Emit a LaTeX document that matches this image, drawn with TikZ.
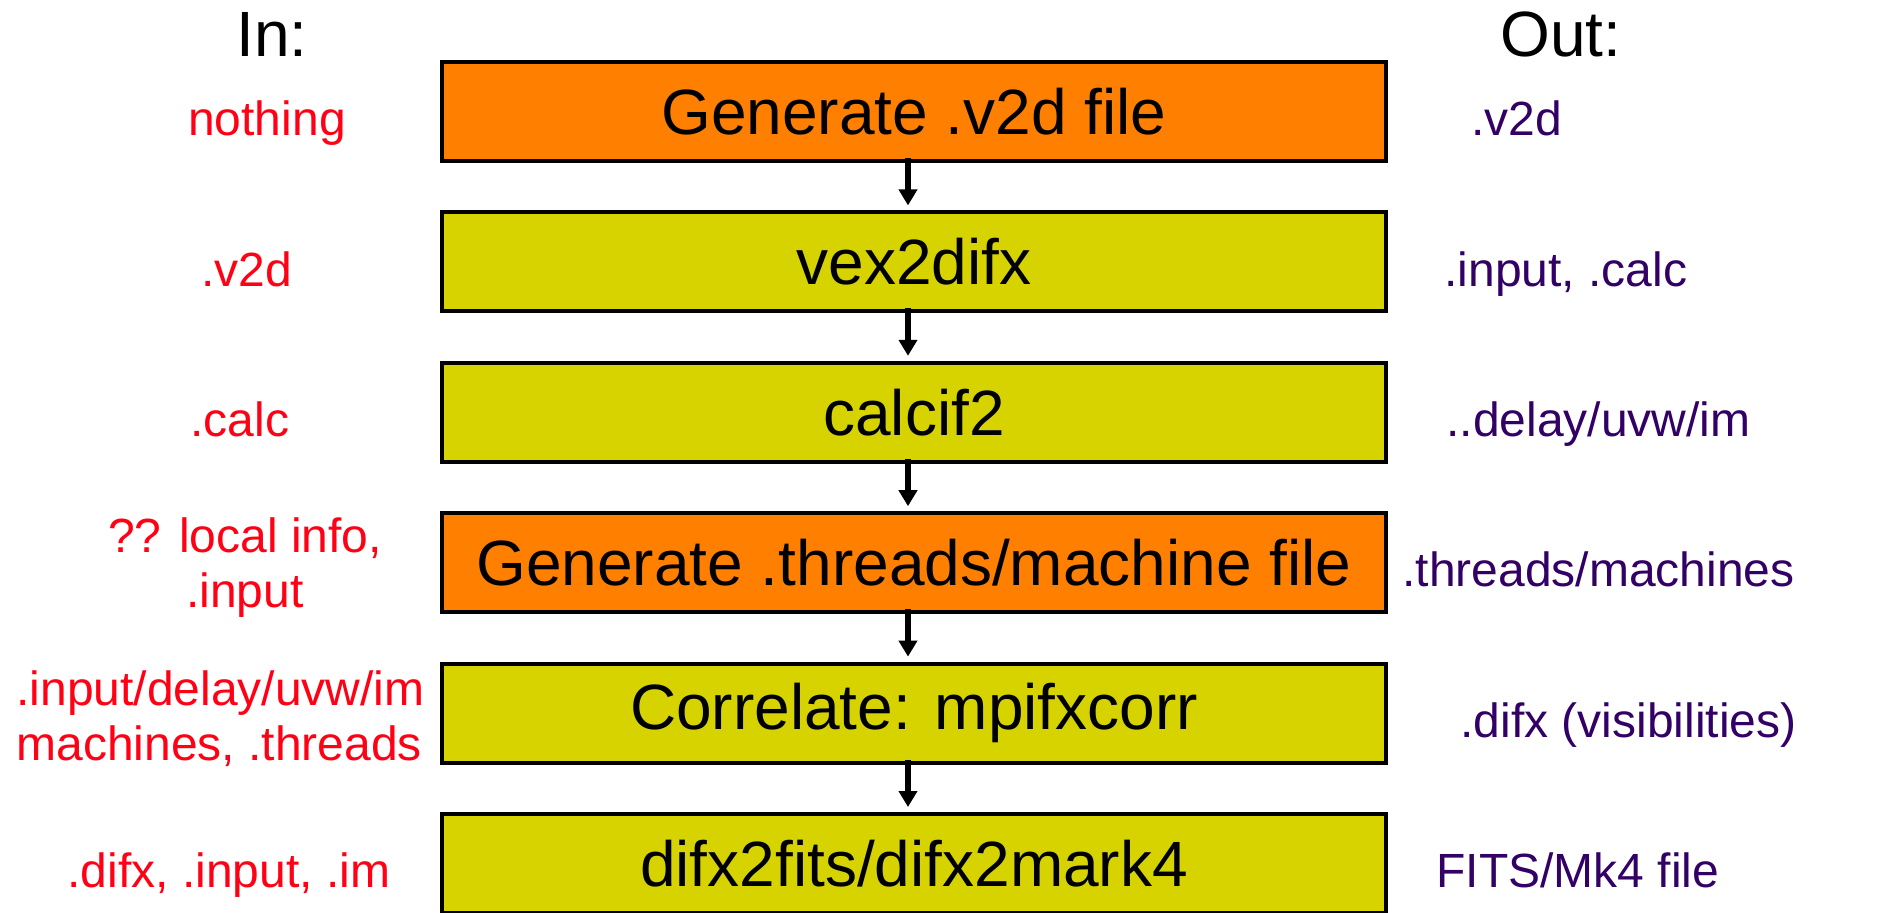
\documentclass[tikz,border=0pt]{standalone}
\usepackage{fontspec}
\setmainfont{Liberation Sans}
\usetikzlibrary{arrows.meta, chains, positioning}

\definecolor{boxorange}{RGB}{255,128,0}
\definecolor{boxolive}{RGB}{214,211,0}
\definecolor{inred}{RGB}{255,0,20}
\definecolor{outpurple}{RGB}{51,0,102}

\begin{document}
\begin{tikzpicture}[x=0.5pt, y=-0.5pt, node distance = 25.7pt,
	start chain = A going below,
	stage/.style = {rectangle, draw, line width=2pt, fill=boxolive, outer sep=0pt, inner sep=0pt,
		minimum width=472pt, minimum height=49.5pt, font=\fontsize{32}{38}\selectfont, on chain},
	hot/.style = {stage, fill=boxorange},
	head/.style = {font=\fontsize{32}{38}\selectfont, inner sep=0pt},
	inlabel/.style = {% what goes into a stage
		text=inred, inner sep=0pt, font=\fontsize{24}{27.5}\selectfont},
	outlabel/.style = {% what comes out of it
		text=outpurple, inner sep=0pt, font=\fontsize{24}{27.5}\selectfont, anchor=base west},
	flow/.style = {line width=2.6pt, -{Triangle[width=9pt,length=8pt]},
		shorten >=3.5pt, shorten <=-1.5pt}]

\useasboundingbox (0,0) rectangle (1881,912);

\node[hot, at={(914,111.5)}] {Generate .v2d file};  % A-1
\node[stage] {vex2difx};
\node[stage] {calcif2};
\node[hot]   {Generate .threads/machine file};
\node[stage] {Correlate: mpifxcorr};
\node[stage] {difx2fits/difx2mark4};

	% arrows between stages
	\foreach \i [count=\j from 2] in {1,...,5}
		\draw[flow] ([xshift=-3pt]A-\i.south) -- ([xshift=-3pt]A-\j.north);

	% column heads
	\node[head, anchor=base] (inhead)  at (272,56)  {In:};
	\node[head, anchor=base] (outhead) at (1561,56) {Out:};

	% inputs (base of a two-line label is its last line)
	\node[inlabel, anchor=base] (in1) at (267,135.5) {nothing};
	\node[inlabel, anchor=base] (in2) at (247,286) {.v2d};
	\node[inlabel, anchor=base] (in3) at (240,436) {.calc};
	\node[inlabel, anchor=base, align=center] (in4) at (245,607) {?? local info,\\.input};
	\node[inlabel, anchor=base west, align=left] (in5) at (16,760) {.input/delay/uvw/im\\machines, .threads};
	\node[inlabel, anchor=base] (in6) at (229,887) {.difx, .input, .im};

	% outputs
	\node[outlabel] (out1) at (1471,135.5) {.v2d};
	\node[outlabel] (out2) at (1444,286) {.input, .calc};
	\node[outlabel] (out3) at (1446,436) {..delay/uvw/im};
	\node[outlabel] (out4) at (1402,586) {.threads/machines};
	\node[outlabel] (out5) at (1460,737) {.difx (visibilities)};
	\node[outlabel] (out6) at (1436,887) {FITS/Mk4 file};

\end{tikzpicture}
\end{document}
